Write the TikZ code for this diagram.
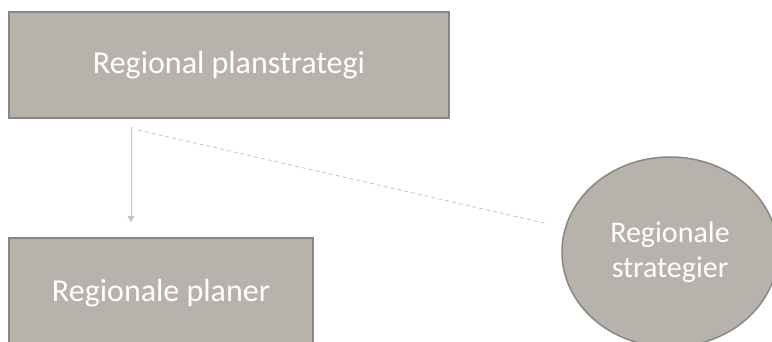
\documentclass[tikz,border=0pt]{standalone}
\usepackage{fontspec}
\setmainfont{Carlito}
\usetikzlibrary{arrows.meta,shapes.geometric}
\definecolor{boxfill}{HTML}{B7B2AC}
\definecolor{boxline}{HTML}{8A8681}
\definecolor{connline}{HTML}{C8C3BE}
\tikzset{
  boxstyle/.style={draw=boxline, fill=boxfill, line width=2pt, text=white, inner sep=0pt, font=\fontsize{32}{38}\selectfont},
  ellstyle/.style={ellipse, draw=boxline, fill=boxfill, line width=1.5pt, text=white, inner sep=0pt, align=center, font=\fontsize{30}{35}\selectfont},
  conn/.style={draw=connline, line width=1pt, -{Triangle[width=7pt,length=6pt]}},
  dashconn/.style={draw=connline, line width=0.8pt, dash pattern=on 4pt off 3pt}
}
\begin{document}
\begin{tikzpicture}[x=1pt,y=-1pt]
\useasboundingbox (0,0) rectangle (772,341);
\clip (0,0) rectangle (772,341);
\node[boxstyle, minimum width=440pt, minimum height=106pt] (top) at (229,65) {Regional planstrategi};
\node[boxstyle, minimum width=304pt, minimum height=110pt] (bottom) at (161,293) {Regionale planer};
\node[ellstyle, minimum width=216pt, minimum height=190pt] (ell) at (670,252) {Regionale\\strategier};
\draw[conn, shorten >=15pt] ([xshift=-98pt,yshift=-8pt]top.south) -- ([xshift=-98pt]top.south |- bottom.north);
\draw[dashconn] ([xshift=-91pt,yshift=-11pt]top.south) -- ([xshift=-17pt,yshift=29pt]ell.west);
\end{tikzpicture}
\end{document}
